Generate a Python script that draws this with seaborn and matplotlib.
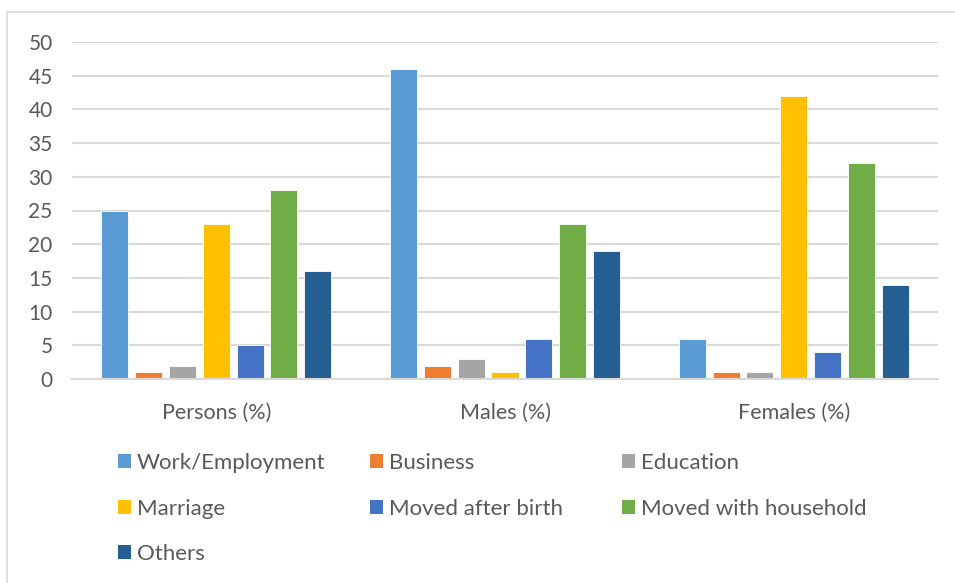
import matplotlib
matplotlib.use("Agg")
import matplotlib.pyplot as plt
from matplotlib.patches import Patch, Rectangle
import seaborn as sns
import pandas as pd

groups = ["Persons (%)", "Males (%)", "Females (%)"]
reasons = ["Work/Employment", "Business", "Education", "Marriage",
           "Moved after birth", "Moved with household", "Others"]
work = [25, 46, 6]
business = [1, 2, 1]
education = [2, 3, 1]
marriage = [23, 1, 42]
after_birth = [5, 6, 4]
household = [28, 23, 32]
others = [16, 19, 14]
colors = ["#5B9BD5", "#ED7D31", "#A5A5A5", "#FFC000", "#4472C4", "#70AD47", "#255E91"]
yticks = [0, 5, 10, 15, 20, 25, 30, 35, 40, 45, 50]

series = [work, business, education, marriage, after_birth, household, others]
rows = []
for r, vals in zip(reasons, series):
    for g, v in zip(groups, vals):
        rows.append({"group": g, "reason": r, "value": v})
df = pd.DataFrame(rows)

sns.set_theme(style="white")
plt.rcParams["font.family"] = ["Lato", "DejaVu Sans"]
text_col = "#595959"
grid_col = "#d9d9d9"

fig = plt.figure(figsize=(9.55, 5.83), dpi=100)
ax = fig.add_axes([72/955, 1-379/583, (938-72)/955, (379-42)/583])

sns.barplot(data=df, x="group", y="value", hue="reason", hue_order=reasons,
            order=groups, palette=colors, width=0.82, gap=0.2, ax=ax,
            legend=False, edgecolor="white", linewidth=0.6, saturation=1)

ax.set_ylim(0, 50)
ax.set_yticks(yticks)
ax.set_xlim(-0.5, 2.5)
ax.set_xlabel("")
ax.set_ylabel("")
ax.yaxis.grid(True, color=grid_col, linewidth=1.5)
ax.set_axisbelow(True)
for s in ["top", "right", "left"]:
    ax.spines[s].set_visible(False)
ax.spines["bottom"].set_color(grid_col)
ax.spines["bottom"].set_linewidth(1.5)
ax.tick_params(axis="both", length=0, colors=text_col)
ax.tick_params(axis="y", pad=14, labelsize=15)
ax.tick_params(axis="x", pad=17, labelsize=15.5)

# outer chart frame
fig.patches.append(Rectangle((7/955, -0.1), 1.2, 1.1 - 12/583,
                             transform=fig.transFigure, fill=False,
                             edgecolor=grid_col, linewidth=1.2))

# legend in three columns
cols = [[0, 3, 6], [1, 4], [2, 5]]
xs = [118, 370, 622]
for xpx, idxs in zip(xs, cols):
    handles = [Patch(facecolor=colors[i], edgecolor="none", label=reasons[i]) for i in idxs]
    fig.legend(handles=handles, loc="upper left",
               bbox_to_anchor=(xpx/955, 1-453/583), frameon=False,
               fontsize=16, labelcolor=text_col, handlelength=0.59,
               handleheight=0.59, handletextpad=0.25, labelspacing=1.15,
               borderaxespad=0, borderpad=0)

fig.savefig("out.png", dpi=100)
